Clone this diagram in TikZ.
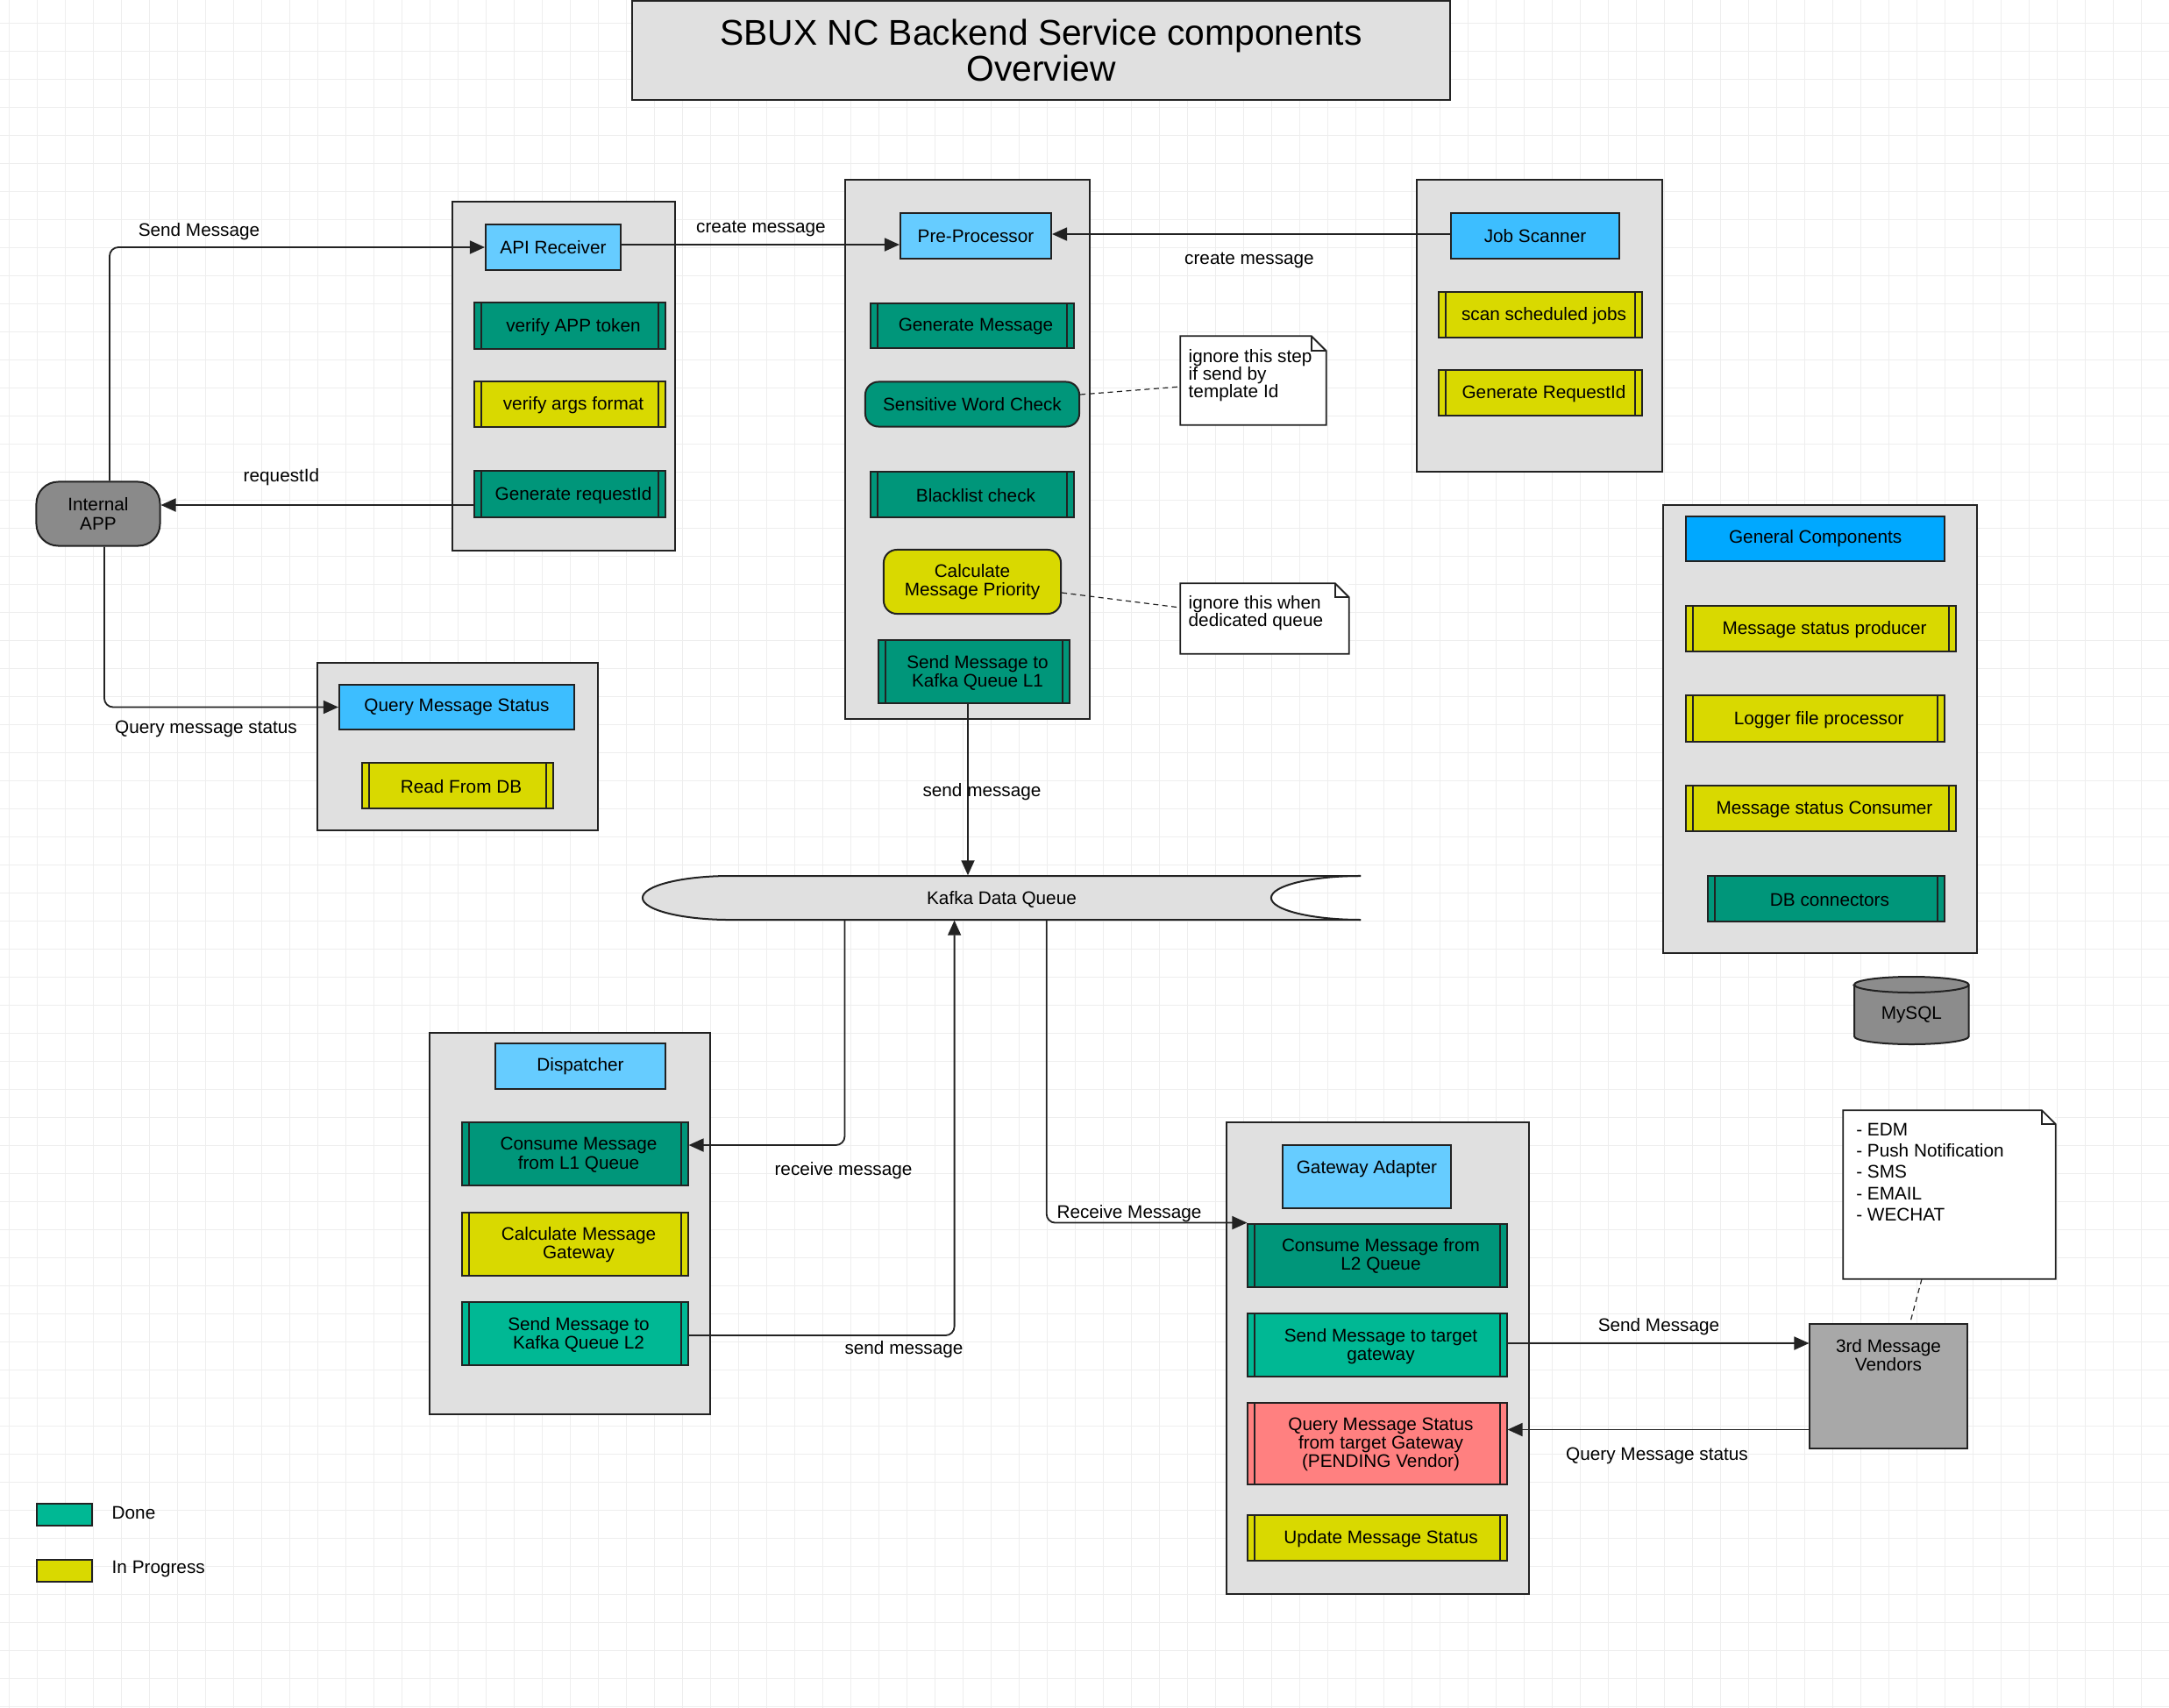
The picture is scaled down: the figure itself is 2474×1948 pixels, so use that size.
\documentclass[tikz,border=0pt]{standalone}
\usepackage{fontspec}
\setmainfont{Liberation Sans}
\usetikzlibrary{arrows.meta,calc}
\definecolor{cgray}{HTML}{E0E0E0}
\definecolor{lblue}{HTML}{66CCFF}
\definecolor{mblue}{HTML}{3DBEFF}
\definecolor{dblue}{HTML}{00A8FF}
\definecolor{dteal}{HTML}{00967A}
\definecolor{lteal}{HTML}{00B894}
\definecolor{yel}{HTML}{D9D900}
\definecolor{redc}{HTML}{FF8080}
\definecolor{appg}{HTML}{8A8A8A}
\definecolor{sqlg}{HTML}{8C8C8C}
\definecolor{vendg}{HTML}{A8A8A8}
\definecolor{gridc}{HTML}{EEEEEE}
\definecolor{bord}{HTML}{222222}
\begin{document}
\begin{tikzpicture}[x=0.01cm,y=-0.01cm,
  every node/.style={font=\fontsize{5.9}{6}\selectfont, inner sep=0pt, align=center},
  cont/.style={draw=bord, line width=0.02cm, fill=cgray},
  rbox/.style={draw=bord, line width=0.02cm, fill=#1},
  proc/.style={rbox=#1, path picture={
     \draw[bord, line width=0.02cm]
       ([xshift=0.08cm]path picture bounding box.north west) -- ([xshift=0.08cm]path picture bounding box.south west)
       ([xshift=-0.08cm]path picture bounding box.north east) -- ([xshift=-0.08cm]path picture bounding box.south east);}},
  ptxt/.style={label={[xshift=0.04cm, yshift=-0.012cm]center:#1}},
  sz/.style 2 args={minimum width=#1cm, minimum height=#2cm},
  arr/.style={draw=bord, line width=0.018cm, -{Triangle[length=0.17cm,width=0.15cm]}},
  dsh/.style={draw=bord, line width=0.012cm, dash pattern=on 0.06cm off 0.045cm},
  notel/.style={draw=bord, line width=0.018cm},
  gridl/.style={draw=gridc, line width=0.01cm},
  notetext/.style={anchor=north west, align=left},
  tl/.style={yshift=-0.02cm}
]
\useasboundingbox (0,0) rectangle (2474,1948);
\fill[white] (0,0) rectangle (2474,1948);
\foreach \i in {0,...,77} \draw[gridl] ({10.7+32*\i},0) -- ({10.7+32*\i},1948);
\foreach \j in {0,...,60} \draw[gridl] (0,{26+32*\j}) -- (2474,{26+32*\j});

% title
\node[cont, sz={9.33}{1.13}, font=\fontsize{11.6}{11.7}\selectfont] (title) at (1187.5,57.5) {SBUX NC Backend Service components\\Overview};

% containers
\node[cont, sz={2.54}{3.98}] (capi) at (643,429) {};
\node[cont, sz={3.20}{1.91}] (cqry) at (522,851.5) {};
\node[cont, sz={2.79}{6.15}] (cpre) at (1103.5,512.5) {};
\node[cont, sz={2.80}{3.33}] (cjob) at (1756,371.5) {};
\node[cont, sz={3.58}{5.11}] (cgen) at (2076,831.5) {};
\node[cont, sz={3.20}{4.35}] (cdis) at (650,1395.5) {};
\node[cont, sz={3.45}{5.38}] (cgw) at (1571.5,1549) {};

% API receiver group
\node[rbox=lblue, sz={1.54}{0.52}] (api) at (631,282) {API Receiver};
\node[proc=dteal, sz={2.18}{0.52}, ptxt={verify APP token}] (vat) at (650,371.5) {};
\node[proc=yel, sz={2.18}{0.52}, ptxt={verify args format}] (vaf) at (650,461) {};
\node[proc=dteal, sz={2.18}{0.52}, ptxt={Generate requestId}] (greq) at (650,563.5) {};

% query group
\node[rbox=mblue, sz={2.68}{0.51}] (qms) at (521,806.5) {Query Message Status};
\node[proc=yel, sz={2.18}{0.51}, ptxt={Read From DB}] (rdb) at (522,896) {};

% pre-processor group
\node[rbox=lblue, sz={1.72}{0.52}] (pre) at (1113,269) {Pre-Processor};
\node[proc=dteal, sz={2.31}{0.51}, ptxt={Generate Message}] (gmsg) at (1109,371.5) {};
\node[rbox=dteal, rounded corners=0.15cm, sz={2.44}{0.51}] (sens) at (1109,461) {Sensitive Word Check};
\node[proc=dteal, sz={2.31}{0.52}, ptxt={Blacklist check}] (bl) at (1109,563.6) {};
\node[rbox=yel, rounded corners=0.15cm, sz={2.02}{0.73}] (prio) at (1109,663.5) {Calculate\\Message Priority};
\node[proc=dteal, sz={2.18}{0.72}, ptxt={Send Message to\\Kafka Queue L1}] (sl1) at (1111,766) {};

% job scanner group
\node[rbox=mblue, sz={1.92}{0.52}] (job) at (1751,269) {Job Scanner};
\node[proc=yel, sz={2.31}{0.52}, ptxt={scan scheduled jobs}] (ssj) at (1757,359) {};
\node[proc=yel, sz={2.31}{0.52}, ptxt={Generate RequestId}] (greq2) at (1757,448.3) {};

% general components
\node[rbox=dblue, sz={2.95}{0.51}] (genc) at (2070.7,614.5) {General Components};
\node[proc=yel, sz={3.08}{0.51}, ptxt={Message status producer}] (msp) at (2077,717) {};
\node[proc=yel, sz={2.95}{0.52}, ptxt={Logger file processor}] (lfp) at (2070.7,819.5) {};
\node[proc=yel, sz={3.08}{0.52}, ptxt={Message status Consumer}] (msc) at (2077,922) {};
\node[proc=dteal, sz={2.70}{0.52}, ptxt={DB connectors}] (dbc) at (2083,1024.8) {};

% MySQL
\filldraw[fill=sqlg, draw=bord, line width=0.02cm] (2115,1123) -- (2115,1182) arc[start angle=180,end angle=360,x radius=0.653cm,y radius=0.09cm] -- (2245.6,1123) arc[start angle=0,end angle=180,x radius=0.653cm,y radius=0.09cm] -- cycle;
\draw[draw=bord, line width=0.02cm] (2115,1123) arc[start angle=180,end angle=360,x radius=0.653cm,y radius=0.09cm];
\node (mysql) at (2180.4,1157) {MySQL};

% internal app
\node[rbox=appg, rounded corners=0.25cm, sz={1.41}{0.73}] (app) at (112,586) {Internal\\APP};

% Kafka
\fill[cgray] (1552,999) -- (833,999) arc[start angle=90,end angle=270,x radius=1cm,y radius=0.25cm] -- (1552,1049) arc[start angle=270,end angle=90,x radius=1.02cm,y radius=0.25cm] -- cycle;
\draw[draw=bord, line width=0.02cm] (1552,999) -- (833,999) arc[start angle=90,end angle=270,x radius=1cm,y radius=0.25cm] -- (1552,1049);
\draw[draw=bord, line width=0.02cm] (1552,1049) arc[start angle=270,end angle=90,x radius=1.02cm,y radius=0.25cm];
\node[sz={8.19}{0.5}, label={[yshift=-0.015cm]center:Kafka Data Queue}] (kafka) at (1142.5,1024) {};

% dispatcher group
\node[rbox=lblue, sz={1.93}{0.51}] (disp) at (662,1216) {Dispatcher};
\node[proc=dteal, sz={2.57}{0.72}, ptxt={Consume Message\\from L1 Queue}] (cl1) at (656,1316) {};
\node[proc=yel, sz={2.57}{0.72}, ptxt={Calculate Message\\Gateway}] (cmg) at (656,1418.7) {};
\node[proc=lteal, sz={2.57}{0.72}, ptxt={Send Message to\\Kafka Queue L2}] (sl2) at (656,1521) {};

% gateway adapter group
\node[rbox=lblue, sz={1.92}{0.72}, label={[anchor=north, yshift=-0.18cm]north:Gateway Adapter}] (gwa) at (1559,1342) {};
\node[proc=dteal, sz={2.95}{0.72}, ptxt={Consume Message from\\L2 Queue}] (cl2) at (1571,1431.6) {};
\node[proc=lteal, sz={2.95}{0.72}, ptxt={Send Message to target\\gateway}] (stg) at (1571,1534) {};
\node[proc=redc, sz={2.95}{0.93}, ptxt={Query Message Status\\from target Gateway\\(PENDING Vendor)}] (qtg) at (1571,1646.5) {};
\node[proc=yel, sz={2.95}{0.52}, ptxt={Update Message Status}] (ums) at (1571,1753.7) {};

% vendors
\node[rbox=vendg, sz={1.79}{1.41}, label={[anchor=north, yshift=-0.175cm]north:3rd Message\\Vendors}] (vend) at (2154,1581) {};

% notes
\node[fill=white, sz={1.65}{1.0}] (n1) at (1429.5,434) {};
\draw[notel] (n1.north west) -- ([xshift=-0.17cm]n1.north east) -- ([yshift=-0.17cm]n1.north east) -- (n1.south east) -- (n1.south west) -- cycle;
\draw[notel] ([xshift=-0.17cm]n1.north east) |- ([yshift=-0.17cm]n1.north east);
\node[notetext, font=\fontsize{5.9}{5.7}\selectfont] (n1t) at (1355,398) {ignore this step\\if send by\\template Id};

\node[fill=white, sz={1.91}{0.79}] (n2) at (1442.5,705.5) {};
\draw[notel] (n2.north west) -- ([xshift=-0.16cm]n2.north east) -- ([yshift=-0.16cm]n2.north east) -- (n2.south east) -- (n2.south west) -- cycle;
\draw[notel] ([xshift=-0.16cm]n2.north east) |- ([yshift=-0.16cm]n2.north east);
\node[notetext, font=\fontsize{5.9}{5.7}\selectfont] (n2t) at (1355,679) {ignore this when\\dedicated queue};

\node[fill=white, sz={2.41}{1.91}] (n3) at (2223.5,1362.5) {};
\draw[notel] (n3.north west) -- ([xshift=-0.16cm]n3.north east) -- ([yshift=-0.16cm]n3.north east) -- (n3.south east) -- (n3.south west) -- cycle;
\draw[notel] ([xshift=-0.16cm]n3.north east) |- ([yshift=-0.16cm]n3.north east);
\node[notetext, font=\fontsize{5.9}{6.88}\selectfont] (n3t) at (2116.6,1280.5) {- EDM\\- Push Notification\\- SMS\\- EMAIL\\- WECHAT};

% helper coordinates
\coordinate (xa) at (125,0);
\coordinate (xq) at (119,0);
\coordinate (yr) at (0,576);
\coordinate (yc) at (0,279);
\coordinate (yj) at (0,267);
\coordinate (xk) at (1104,0);
\coordinate (xr) at (963.5,0);
\coordinate (yrv) at (0,1306);
\coordinate (xs) at (1088.6,0);
\coordinate (ys) at (0,1523);
\coordinate (xg) at (1193.7,0);
\coordinate (ysv) at (0,1532);
\coordinate (yqv) at (0,1630.5);
\coordinate (yd1) at (0,450);
\coordinate (yd1b) at (0,441);
\coordinate (yd2) at (0,676);
\coordinate (yd2b) at (0,693);
\coordinate (xd3) at (2192,0);
\coordinate (xd3b) at (2178.5,0);

% connectors
\draw[arr, rounded corners=0.1cm] (app.north -| xa) |- (api.west);
\draw[arr] (greq.west |- yr) -- (app.east |- yr);
\draw[arr, rounded corners=0.1cm] (app.south -| xq) |- (qms.west);
\draw[arr] (api.east |- yc) -- (pre.west |- yc);
\draw[arr] (job.west |- yj) -- (pre.east |- yj);
\draw[arr] (sl1.south -| xk) -- (kafka.north -| xk);
\draw[arr, rounded corners=0.1cm] (kafka.south -| xr) |- (cl1.east |- yrv);
\draw[arr, rounded corners=0.1cm] (sl2.east |- ys) -| (kafka.south -| xs);
\draw[arr, rounded corners=0.1cm] (kafka.south -| xg) |- (cl2.north west);
\draw[arr] (stg.east |- ysv) -- (vend.west |- ysv);
\draw[arr] (vend.west |- yqv) -- (qtg.east |- yqv);
\draw[dsh] (sens.east |- yd1) -- (n1.west |- yd1b);
\draw[dsh] (prio.east |- yd2) -- (n2.west |- yd2b);
\draw[dsh] (n3.south -| xd3) -- (vend.north -| xd3b);

% connector labels
\node[tl] (l1) at (227,262) {Send Message};
\node[tl] (l2) at (321,542) {requestId};
\node[tl] (l3) at (235,829) {Query message status};
\node[tl] (l4) at (868,259) {create message};
\node[tl] (l5) at (1425,295) {create message};
\node[tl] (l6) at (1120,901) {send message};
\node[tl] (l7) at (962,1333) {receive message};
\node[tl] (l8) at (1031,1537) {send message};
\node[tl] (l9) at (1288,1382) {Receive Message};
\node[tl] (l10) at (1892,1511) {Send Message};
\node[tl] (l11) at (1890,1658) {Query Message status};

% legend
\node[rbox=lteal, sz={0.63}{0.25}] (lgdone) at (73.4,1727.5) {};
\node[rbox=yel, sz={0.63}{0.25}] (lgprog) at (73.4,1791.5) {};
\node[anchor=west, tl] (lgdonet) at (127,1723) {Done};
\node[anchor=west, tl] (lgprogt) at (127,1787) {In Progress};
\end{tikzpicture}
\end{document}
